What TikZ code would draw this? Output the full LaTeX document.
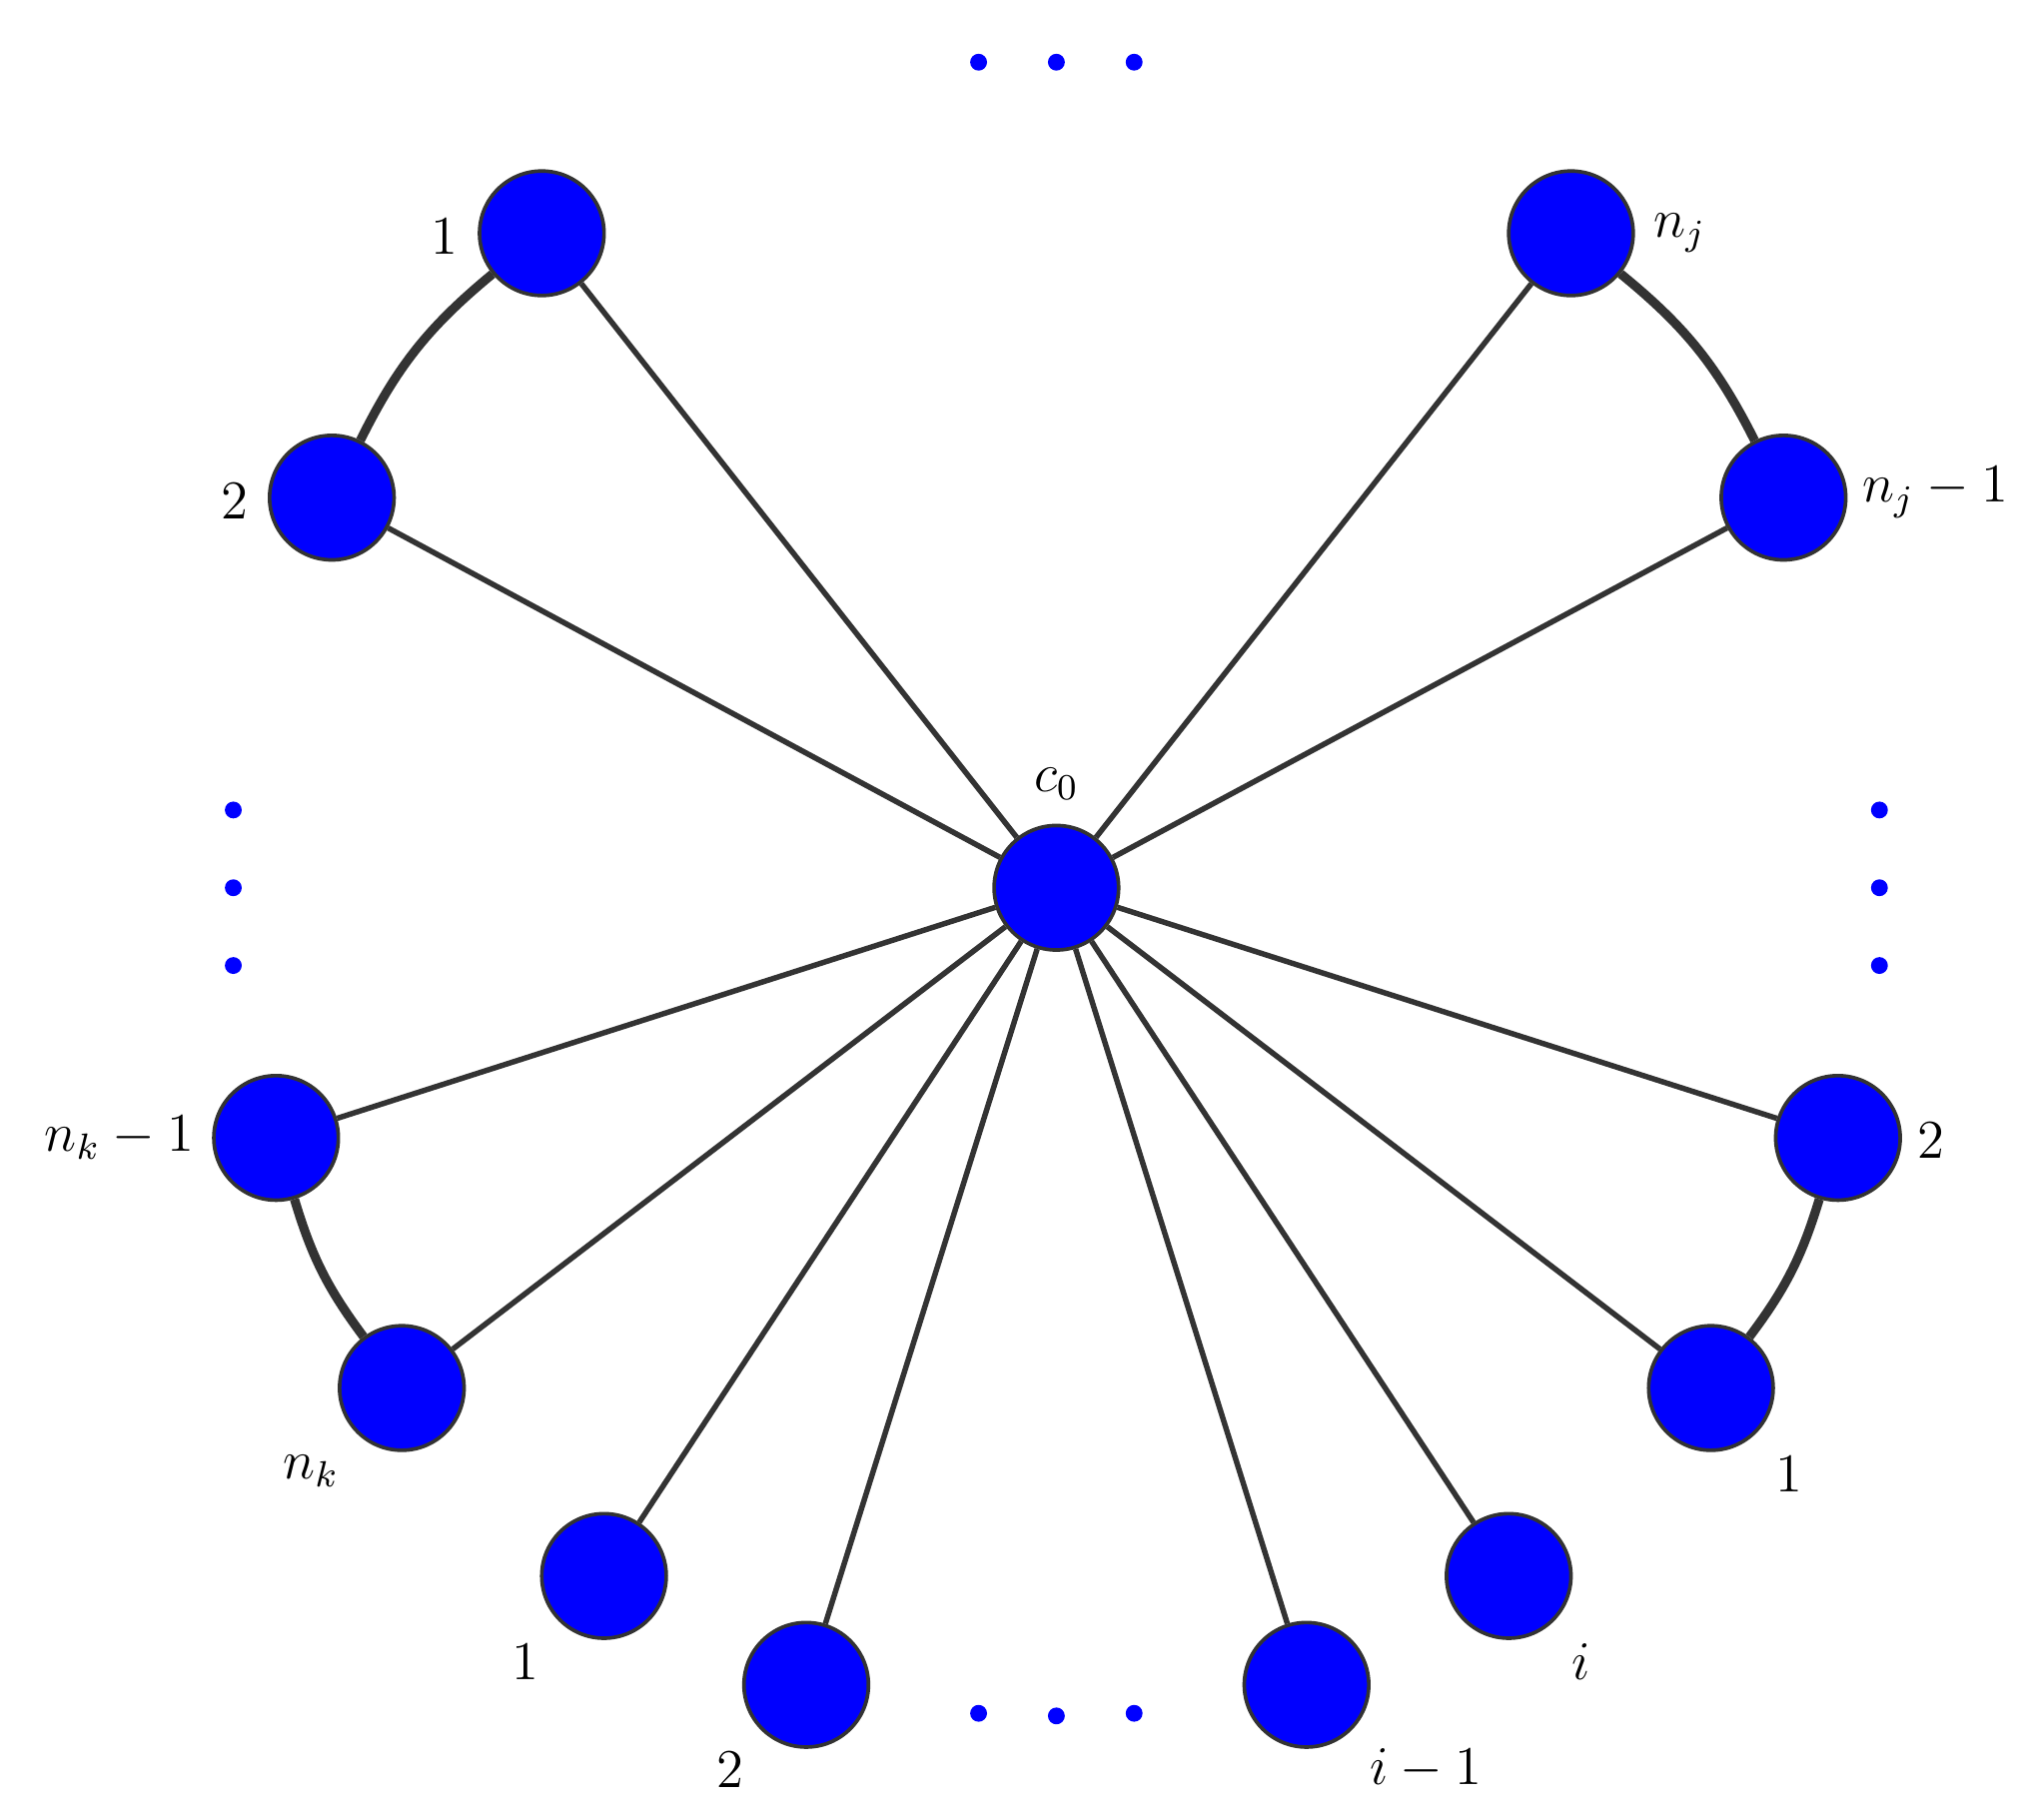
\documentclass[tikz,border=0pt]{standalone}
\begin{document}
\begin{tikzpicture}[x=0.01cm,y=-0.01cm,
  vtx/.style={circle,fill=blue,draw=black!80,line width=0.8pt,minimum size=0.96cm,inner sep=0pt},
  sm/.style={circle,fill=blue,minimum size=0.13cm,inner sep=0pt},
  edge/.style={draw=black!80,line width=1.2pt},
  arcb/.style={draw=black!80,line width=2pt},
  lab/.style={font=\large}]
\useasboundingbox (0,0) rectangle (1560,1404);
\node[vtx] (c0) at (815,685) {};
\node[vtx] (a1) at (418,180) {};
\node[vtx] (a2) at (256,384) {};
\node[vtx] (b1) at (1212,180) {};
\node[vtx] (b2) at (1376,384) {};
\node[vtx] (k1) at (213,878) {};
\node[vtx] (k2) at (310,1071) {};
\node[vtx] (r2) at (1418,878) {};
\node[vtx] (r1) at (1320,1071) {};
\node[vtx] (l1) at (466,1216) {};
\node[vtx] (l2) at (622,1300) {};
\node[vtx] (i1) at (1008,1300) {};
\node[vtx] (ii) at (1164,1216) {};
\foreach \n in {a1,a2,b1,b2,k1,k2,r2,r1,l1,l2,i1,ii} \draw[edge] (c0) -- (\n);
\draw[arcb] (a1) to[bend right=12] (a2);
\draw[arcb] (b1) to[bend left=12] (b2);
\draw[arcb] (k1) to[bend right=10] (k2);
\draw[arcb] (r2) to[bend left=10] (r1);
\foreach \p/\q [count=\c] in {755/48,815/48,875/48,755/1322,815/1324,875/1322,180/625,180/685,180/745,1450/625,1450/685,1450/745}
  \node[sm] (d\c) at (\p,\q) {};
\node[lab] (t1) at (343,182) {1};
\node[lab] (t2) at (181,386) {2};
\node[lab] (t3) at (1296,180) {$n_j$};
\node[lab] (t4) at (1493,380) {$n_j-1$};
\node[lab] (t5) at (815,605) {$c_0$};
\node[lab] (t6) at (92,878) {$n_k-1$};
\node[lab] (t7) at (240,1135) {$n_k$};
\node[lab] (t8) at (1490,880) {2};
\node[lab] (t9) at (1380,1137) {1};
\node[lab] (t10) at (405,1282) {1};
\node[lab] (t11) at (563,1365) {2};
\node[lab] (t12) at (1100,1365) {$i-1$};
\node[lab] (t13) at (1220,1282) {$i$};
\end{tikzpicture}
\end{document}
